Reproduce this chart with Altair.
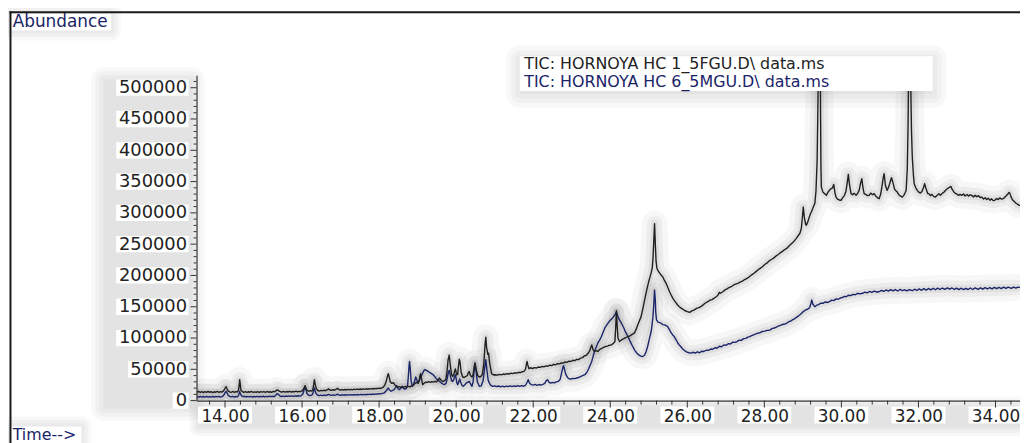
import altair as alt
import pandas as pd

# ---------------- data ----------------
# (retention time in minutes, abundance)
HC1 = [
    (13.28, 13800), (13.32, 14600), (13.36, 13200), (13.40, 14200), (13.44, 12900), (13.48, 14400),
    (13.52, 13300), (13.56, 14800), (13.60, 13100), (13.64, 14300), (13.68, 12800), (13.72, 14100),
    (13.76, 13400), (13.80, 14700), (13.84, 13000), (13.88, 14200), (13.92, 13600), (13.96, 15500),
    (13.99, 18500), (14.01, 21000), (14.03, 22300), (14.05, 19000), (14.08, 15500), (14.12, 14000),
    (14.16, 13200), (14.20, 14600), (14.24, 13300), (14.28, 14400), (14.32, 13800), (14.35, 16500),
    (14.37, 26000), (14.38, 33400), (14.395, 27000), (14.41, 17000), (14.45, 14500), (14.49, 13200),
    (14.53, 14400), (14.57, 13000), (14.61, 14200), (14.65, 13400), (14.69, 14600), (14.73, 13100),
    (14.77, 14000), (14.81, 13300), (14.85, 14500), (14.89, 13000), (14.93, 14300), (14.97, 13500),
    (15.01, 14400), (15.05, 13200), (15.09, 14600), (15.13, 13400), (15.17, 14200), (15.21, 13300),
    (15.25, 14800), (15.29, 14000), (15.32, 15800), (15.36, 17200), (15.40, 15600), (15.44, 14200),
    (15.48, 13500), (15.52, 14700), (15.56, 13600), (15.60, 14500), (15.64, 13800), (15.68, 14900),
    (15.72, 13700), (15.76, 14600), (15.80, 14000), (15.84, 15100), (15.88, 14100), (15.92, 14800),
    (15.96, 14300), (16.00, 15400), (16.04, 18500), (16.06, 21500), (16.08, 23900), (16.10, 20000),
    (16.13, 16500), (16.17, 15000), (16.21, 15900), (16.25, 15200), (16.28, 17500), (16.30, 25000),
    (16.32, 33400), (16.34, 26000), (16.37, 19000), (16.41, 16200), (16.45, 15300), (16.49, 16400),
    (16.53, 15500), (16.57, 16600), (16.61, 15800), (16.65, 17200), (16.69, 18800), (16.72, 17000),
    (16.76, 16300), (16.80, 17400), (16.84, 16600), (16.88, 17800), (16.92, 19500), (16.95, 18000),
    (16.99, 16800), (17.03, 17600), (17.07, 16900), (17.11, 17800), (17.15, 17000), (17.19, 18000),
    (17.23, 17200), (17.27, 18100), (17.31, 17300), (17.35, 18300), (17.39, 17500), (17.43, 18400),
    (17.47, 17700), (17.51, 18600), (17.55, 17800), (17.59, 18700), (17.63, 18000), (17.67, 18900),
    (17.71, 18200), (17.75, 19100), (17.79, 18400), (17.83, 19300), (17.87, 18600), (17.91, 19600),
    (17.95, 19000), (17.99, 20000), (18.03, 19300), (18.07, 20400), (18.11, 21500), (18.15, 25000),
    (18.19, 32000), (18.22, 40000), (18.24, 43000), (18.26, 38000), (18.29, 30000), (18.33, 27500),
    (18.37, 28700), (18.41, 25000), (18.45, 22500), (18.49, 21500), (18.53, 22300), (18.57, 21200),
    (18.61, 22400), (18.65, 21600), (18.69, 22700), (18.73, 22000), (18.77, 22800), (18.81, 22200),
    (18.85, 23500), (18.89, 25000), (18.93, 27500), (18.97, 29100), (19.01, 27500), (19.04, 33000),
    (19.06, 40000), (19.08, 43000), (19.10, 35000), (19.13, 25500), (19.17, 28000), (19.21, 29500),
    (19.25, 29000), (19.29, 30200), (19.33, 29300), (19.37, 30500), (19.41, 29600), (19.45, 30800),
    (19.49, 30000), (19.53, 33000), (19.57, 36100), (19.61, 32500), (19.65, 30500), (19.69, 31500),
    (19.73, 33500), (19.76, 45000), (19.79, 65000), (19.82, 72800), (19.85, 55000), (19.88, 42000),
    (19.91, 38700), (19.94, 42000), (19.96, 47000), (19.98, 50500), (20.00, 45000), (20.02, 41000),
    (20.04, 42000), (20.06, 55000), (20.08, 66000), (20.10, 62000), (20.13, 45000), (20.17, 37700),
    (20.21, 37000), (20.25, 38500), (20.29, 40000), (20.32, 45000), (20.34, 46700), (20.37, 40000),
    (20.41, 37700), (20.44, 42000), (20.47, 55000), (20.49, 60000), (20.52, 50000), (20.56, 40000),
    (20.60, 37700), (20.64, 38500), (20.68, 42000), (20.72, 60000), (20.75, 90000), (20.77, 101400),
    (20.79, 85000), (20.82, 74000), (20.84, 75900), (20.87, 60000), (20.92, 43000), (20.97, 41000),
    (21.02, 41400), (21.07, 40700), (21.12, 42000), (21.17, 41200), (21.22, 42500), (21.27, 41800),
    (21.32, 43000), (21.37, 42500), (21.42, 43800), (21.47, 43200), (21.52, 44500), (21.57, 44000),
    (21.62, 45300), (21.67, 44800), (21.72, 46200), (21.76, 46700), (21.80, 50000), (21.82, 57000),
    (21.84, 62500), (21.86, 57000), (21.89, 51000), (21.93, 52500), (21.98, 51300), (22.03, 52800),
    (22.08, 52100), (22.13, 53700), (22.18, 53000), (22.23, 54600), (22.28, 54000), (22.33, 55500),
    (22.38, 55000), (22.43, 56600), (22.48, 56000), (22.53, 58000), (22.58, 57300), (22.63, 59200),
    (22.68, 58700), (22.73, 60400), (22.78, 60000), (22.83, 61800), (22.88, 61200), (22.93, 63000),
    (22.98, 62500), (23.03, 64500), (23.08, 64000), (23.13, 66000), (23.18, 65500), (23.23, 68000),
    (23.28, 68700), (23.33, 71500), (23.38, 72500), (23.43, 76000), (23.47, 80000), (23.50, 86000),
    (23.52, 89000), (23.55, 82000), (23.59, 78500), (23.63, 80000), (23.68, 78500), (23.73, 82000),
    (23.78, 83500), (23.83, 85000), (23.88, 86500), (23.93, 87000), (23.98, 88500), (24.03, 89000),
    (24.08, 91500), (24.12, 94000), (24.14, 115000), (24.16, 143800), (24.18, 120000), (24.20, 100000),
    (24.24, 94400), (24.29, 97000), (24.34, 98500), (24.40, 100500), (24.45, 102400), (24.50, 103000),
    (24.55, 105000), (24.60, 107000), (24.63, 108300), (24.68, 115000), (24.72, 122000), (24.76, 128000),
    (24.80, 134200), (24.85, 148000), (24.89, 160000), (24.93, 172000), (24.97, 183000), (25.01, 193000),
    (25.06, 203800), (25.09, 212000), (25.11, 228000), (25.13, 255000), (25.15, 282900), (25.17, 250000),
    (25.19, 222000), (25.21, 212000), (25.23, 208600), (25.27, 205000), (25.32, 200600), (25.36, 198000),
    (25.40, 193000), (25.45, 187400), (25.50, 180000), (25.54, 174000), (25.58, 168800), (25.63, 163000),
    (25.68, 158500), (25.75, 152800), (25.81, 149000), (25.87, 146500), (25.93, 144000), (26.00, 142200),
    (26.06, 141000), (26.12, 143500), (26.18, 145000), (26.24, 147500), (26.30, 148500), (26.35, 150100),
    (26.41, 153000), (26.47, 156000), (26.53, 158000), (26.59, 160500), (26.64, 161500), (26.69, 163500),
    (26.74, 165500), (26.79, 168000), (26.83, 173000), (26.86, 171500), (26.92, 174000), (26.98, 177000),
    (27.03, 178500), (27.08, 180500), (27.14, 182000), (27.20, 184700), (27.25, 186000), (27.31, 187500),
    (27.37, 189500), (27.43, 191000), (27.49, 193500), (27.55, 195300), (27.61, 198000), (27.67, 201000),
    (27.73, 203500), (27.79, 206500), (27.84, 209000), (27.89, 211300), (27.95, 214000), (28.01, 217500),
    (28.07, 220000), (28.12, 223000), (28.18, 225500), (28.23, 227200), (28.29, 230500), (28.35, 233000),
    (28.41, 236000), (28.47, 238500), (28.52, 241000), (28.58, 243100), (28.64, 247000), (28.70, 250500),
    (28.76, 254000), (28.82, 258500), (28.87, 263000), (28.92, 267000), (28.96, 275000), (28.99, 295000),
    (29.01, 309300), (29.04, 292000), (29.07, 282000), (29.09, 280200), (29.13, 286000), (29.17, 294000),
    (29.20, 299000), (29.22, 301400), (29.25, 306000), (29.28, 311000), (29.31, 315200), (29.34, 335000),
    (29.37, 383700), (29.39, 470000), (29.41, 560000), (29.43, 580000), (29.45, 560000), (29.46, 450000),
    (29.47, 370000), (29.48, 341200), (29.52, 333200), (29.56, 331000), (29.61, 328000), (29.65, 333000),
    (29.69, 336000), (29.73, 338600), (29.77, 340000), (29.80, 345500), (29.83, 333000), (29.86, 325200),
    (29.90, 322000), (29.95, 320500), (29.99, 320000), (30.03, 324000), (30.08, 328000), (30.12, 335000),
    (30.16, 352000), (30.18, 361400), (30.21, 345000), (30.25, 330700), (30.29, 329000), (30.33, 331500),
    (30.38, 328000), (30.42, 331000), (30.46, 336000), (30.50, 348000), (30.53, 354500), (30.56, 340000),
    (30.59, 330700), (30.63, 329500), (30.68, 327500), (30.72, 328000), (30.76, 331500), (30.81, 329000),
    (30.85, 330700), (30.89, 327000), (30.94, 324000), (30.98, 322700), (31.02, 330000), (31.06, 345000),
    (31.09, 358000), (31.11, 362500), (31.14, 345000), (31.17, 338600), (31.19, 336000), (31.23, 342000),
    (31.27, 350000), (31.30, 356100), (31.34, 348000), (31.38, 338000), (31.42, 335000), (31.45, 333200),
    (31.49, 329000), (31.53, 327000), (31.58, 325200), (31.62, 328000), (31.66, 333000), (31.68, 336000),
    (31.71, 370000), (31.73, 436700), (31.75, 560000), (31.77, 580000), (31.79, 540000), (31.82, 430000),
    (31.84, 388900), (31.87, 360000), (31.89, 346600), (31.93, 340000), (31.97, 335900), (32.01, 333000),
    (32.05, 331600), (32.09, 334000), (32.13, 340000), (32.16, 346600), (32.20, 338000), (32.24, 331000),
    (32.27, 330700), (32.31, 327500), (32.35, 329500), (32.40, 326000), (32.44, 325200), (32.48, 327800),
    (32.53, 330500), (32.57, 328000), (32.61, 330700), (32.66, 333000), (32.71, 336500), (32.76, 339000),
    (32.80, 340500), (32.84, 342300), (32.88, 337000), (32.92, 333500), (32.95, 331600), (32.99, 330500),
    (33.04, 328000), (33.08, 329500), (33.12, 327900), (33.17, 330200), (33.21, 327000), (33.26, 329300),
    (33.30, 326800), (33.34, 328900), (33.38, 327900), (33.43, 325500), (33.47, 328000), (33.51, 325800),
    (33.56, 327500), (33.60, 324500), (33.64, 325200), (33.69, 322000), (33.73, 324300), (33.77, 321300),
    (33.81, 323300), (33.86, 320200), (33.90, 322400), (33.94, 319500), (33.98, 320000), (34.03, 323000),
    (34.07, 321200), (34.11, 323800), (34.16, 322000), (34.20, 322700), (34.24, 325000), (34.28, 327500),
    (34.32, 330000), (34.35, 332500), (34.37, 331600), (34.40, 326000), (34.44, 321000), (34.48, 318500),
    (34.50, 317300), (34.54, 315000), (34.58, 313500), (34.62, 312000),
]

HC6 = [
    (13.28, 6400), (13.32, 5600), (13.36, 6800), (13.40, 5400), (13.44, 6600), (13.48, 5700),
    (13.52, 6900), (13.56, 5500), (13.60, 6500), (13.64, 5800), (13.68, 6700), (13.72, 5400),
    (13.76, 6600), (13.80, 5900), (13.84, 6800), (13.88, 5600), (13.92, 6500), (13.96, 8000),
    (13.99, 11000), (14.01, 13500), (14.03, 14800), (14.05, 12500), (14.08, 8500), (14.12, 6800),
    (14.16, 5900), (14.20, 6900), (14.24, 5700), (14.28, 6600), (14.32, 6000), (14.35, 8000),
    (14.37, 12000), (14.38, 14800), (14.40, 11000), (14.43, 7500), (14.47, 6300), (14.51, 6900),
    (14.55, 5800), (14.59, 6700), (14.63, 5900), (14.67, 6800), (14.71, 5700), (14.75, 6600),
    (14.79, 6000), (14.83, 6900), (14.87, 5800), (14.91, 6700), (14.95, 6100), (14.99, 7000),
    (15.03, 5900), (15.07, 6800), (15.11, 6200), (15.15, 7100), (15.19, 6300), (15.23, 7000),
    (15.27, 6400), (15.31, 8000), (15.35, 11100), (15.38, 10000), (15.42, 7600), (15.46, 6600),
    (15.50, 7300), (15.54, 6500), (15.58, 7400), (15.62, 6700), (15.66, 7500), (15.70, 6800),
    (15.74, 7600), (15.78, 6900), (15.82, 7700), (15.86, 7000), (15.90, 7800), (15.94, 7200),
    (15.98, 8000), (16.02, 10500), (16.05, 17000), (16.08, 22800), (16.10, 17500), (16.13, 11000),
    (16.17, 8500), (16.21, 8000), (16.25, 8700), (16.28, 11000), (16.30, 16500), (16.32, 20200),
    (16.34, 15500), (16.37, 10500), (16.41, 8600), (16.45, 8000), (16.49, 8800), (16.53, 8100),
    (16.57, 8900), (16.61, 8200), (16.65, 9000), (16.69, 10000), (16.72, 9000), (16.76, 8400),
    (16.80, 9100), (16.84, 8500), (16.88, 9200), (16.92, 10200), (16.96, 9000), (17.00, 8600),
    (17.04, 9300), (17.08, 8700), (17.12, 9400), (17.16, 8800), (17.20, 9500), (17.24, 8900),
    (17.28, 9600), (17.32, 9000), (17.36, 9700), (17.40, 9100), (17.44, 9800), (17.48, 9200),
    (17.52, 9900), (17.56, 9300), (17.60, 10000), (17.64, 9400), (17.68, 10100), (17.72, 9600),
    (17.76, 10300), (17.80, 9800), (17.84, 10500), (17.88, 10000), (17.92, 10800), (17.96, 10300),
    (18.00, 11200), (18.04, 10700), (18.08, 11600), (18.12, 12000), (18.16, 14000), (18.20, 17000),
    (18.24, 20200), (18.27, 17000), (18.31, 15000), (18.35, 16500), (18.39, 17500), (18.43, 21000),
    (18.46, 23900), (18.49, 19000), (18.53, 17500), (18.57, 20500), (18.60, 22800), (18.63, 19500),
    (18.67, 18500), (18.71, 20000), (18.74, 25000), (18.76, 40000), (18.78, 58000), (18.79, 62600),
    (18.81, 50000), (18.83, 32000), (18.86, 22800), (18.89, 25000), (18.92, 31000), (18.95, 37700),
    (18.98, 33000), (19.01, 28200), (19.04, 31000), (19.07, 36000), (19.10, 39800), (19.13, 44000),
    (19.16, 47500), (19.18, 49400), (19.21, 49000), (19.24, 48000), (19.27, 46700), (19.31, 45000),
    (19.36, 43000), (19.40, 41400), (19.45, 38000), (19.50, 34000), (19.57, 30700), (19.62, 28000),
    (19.66, 26500), (19.70, 25500), (19.74, 28000), (19.77, 36000), (19.80, 46000), (19.82, 48200),
    (19.85, 40000), (19.88, 32000), (19.91, 30700), (19.94, 34000), (19.96, 38500), (19.98, 41400),
    (20.00, 35000), (20.02, 28000), (20.04, 25500), (20.07, 30000), (20.09, 34600), (20.12, 29000),
    (20.15, 24500), (20.18, 22800), (20.22, 25000), (20.26, 28000), (20.30, 29500), (20.34, 30700),
    (20.37, 27000), (20.41, 22800), (20.44, 30000), (20.47, 50000), (20.49, 60000), (20.52, 45000),
    (20.55, 30000), (20.60, 22800), (20.65, 23500), (20.70, 32000), (20.74, 52000), (20.77, 65300),
    (20.80, 48000), (20.83, 33000), (20.86, 28200), (20.90, 24500), (20.95, 22800), (21.00, 23600),
    (21.05, 22300), (21.10, 23400), (21.15, 22100), (21.20, 23200), (21.25, 22000), (21.30, 23100),
    (21.35, 22300), (21.40, 23500), (21.45, 22400), (21.50, 23700), (21.55, 22600), (21.60, 23800),
    (21.65, 22800), (21.70, 24000), (21.75, 23000), (21.80, 24500), (21.84, 29000), (21.87, 33400),
    (21.90, 28500), (21.95, 25500), (22.00, 24700), (22.05, 25800), (22.10, 24500), (22.15, 25700),
    (22.20, 24700), (22.25, 26000), (22.30, 27500), (22.34, 32000), (22.37, 33400), (22.41, 29500),
    (22.45, 27900), (22.50, 29000), (22.55, 28300), (22.60, 30000), (22.65, 30700), (22.70, 34000),
    (22.74, 45000), (22.77, 53000), (22.79, 55700), (22.82, 48000), (22.85, 41400), (22.89, 37000),
    (22.93, 35000), (22.98, 34600), (23.03, 35500), (23.08, 35200), (23.13, 36100), (23.18, 37000),
    (23.23, 38500), (23.28, 40000), (23.34, 41400), (23.39, 45000), (23.44, 51000), (23.48, 57000),
    (23.52, 62600), (23.56, 72000), (23.60, 80000), (23.64, 86000), (23.68, 92300), (23.73, 97500),
    (23.77, 102400), (23.82, 110000), (23.86, 116200), (23.90, 120000), (23.94, 123700), (24.00, 128500),
    (24.06, 132100), (24.10, 135500), (24.13, 138000), (24.16, 142200), (24.19, 136000), (24.22, 131000),
    (24.26, 127000), (24.29, 123700), (24.35, 116500), (24.40, 109000), (24.46, 102400), (24.51, 95500),
    (24.57, 88000), (24.63, 81200), (24.68, 76500), (24.74, 73000), (24.79, 71200), (24.84, 70500),
    (24.89, 72500), (24.93, 78000), (24.97, 86500), (25.02, 100000), (25.06, 110000), (25.08, 118300),
    (25.11, 135000), (25.13, 155000), (25.15, 176700), (25.17, 160000), (25.18, 141700), (25.20, 129000),
    (25.24, 125500), (25.28, 124500), (25.32, 123700), (25.36, 121500), (25.41, 121000), (25.45, 119800),
    (25.49, 118300), (25.54, 113000), (25.58, 108500), (25.62, 105000), (25.66, 102400), (25.71, 97000),
    (25.75, 92500), (25.79, 89000), (25.83, 86500), (25.88, 82500), (25.93, 80000), (25.98, 78000),
    (26.04, 76500), (26.09, 75900), (26.15, 77300), (26.20, 75800), (26.26, 77800), (26.32, 76500),
    (26.37, 78800), (26.43, 78500), (26.49, 80500), (26.55, 80200), (26.61, 82500), (26.66, 82000),
    (26.72, 84500), (26.78, 84000), (26.83, 86800), (26.89, 86000), (26.95, 89000), (27.01, 88500),
    (27.07, 91000), (27.12, 90500), (27.18, 93500), (27.24, 93000), (27.29, 94400), (27.35, 96500),
    (27.40, 96200), (27.46, 99000), (27.52, 99500), (27.57, 101500), (27.62, 102300), (27.67, 104000),
    (27.72, 105100), (27.78, 106500), (27.84, 108000), (27.89, 108500), (27.95, 110500), (28.01, 111000),
    (28.07, 112200), (28.12, 112500), (28.15, 113000), (28.21, 115500), (28.26, 116000), (28.32, 118000),
    (28.38, 119500), (28.43, 120500), (28.49, 122000), (28.54, 122500), (28.58, 123700), (28.63, 126000),
    (28.68, 127000), (28.74, 129500), (28.79, 131000), (28.84, 133500), (28.89, 135500), (28.94, 138000),
    (28.98, 140500), (29.01, 142200), (29.06, 144500), (29.12, 146000), (29.17, 148100), (29.20, 153000),
    (29.23, 160800), (29.26, 154000), (29.31, 150100), (29.36, 152500), (29.41, 153300), (29.46, 155500),
    (29.52, 155500), (29.57, 157500), (29.63, 156800), (29.69, 158100), (29.75, 160500), (29.80, 159800),
    (29.86, 162500), (29.92, 162000), (29.97, 164000), (30.03, 164800), (30.08, 166500), (30.12, 166000),
    (30.18, 168300), (30.24, 167700), (30.30, 169800), (30.36, 169200), (30.42, 171500), (30.48, 170600),
    (30.55, 171500), (30.61, 173300), (30.67, 172200), (30.73, 174400), (30.79, 173000), (30.85, 175000),
    (30.92, 173600), (30.98, 174000), (31.04, 176200), (31.10, 174500), (31.16, 176800), (31.22, 174900),
    (31.28, 177300), (31.34, 175400), (31.40, 177500), (31.46, 175200), (31.52, 177600), (31.58, 175800),
    (31.64, 177100), (31.70, 175300), (31.76, 177400), (31.84, 175600), (31.90, 178000), (31.96, 176000),
    (32.02, 178500), (32.08, 176300), (32.14, 178900), (32.20, 176500), (32.26, 179200), (32.32, 177000),
    (32.38, 179600), (32.44, 177200), (32.50, 179800), (32.56, 177500), (32.62, 179900), (32.69, 177800),
    (32.75, 180200), (32.81, 178000), (32.87, 180000), (32.93, 177600), (32.99, 179800), (33.05, 177400),
    (33.11, 179600), (33.17, 177300), (33.23, 179500), (33.29, 177500), (33.35, 179900), (33.41, 177600),
    (33.47, 180100), (33.55, 177800), (33.61, 180300), (33.67, 178200), (33.73, 180500), (33.79, 178400),
    (33.85, 180700), (33.91, 178600), (33.97, 180900), (34.03, 178800), (34.09, 181000), (34.15, 179000),
    (34.21, 181200), (34.27, 179200), (34.33, 181300), (34.41, 179400), (34.47, 181500), (34.53, 179800),
    (34.58, 181200), (34.62, 181000),
]

Y_LABELS_6 = [100000, 150000, 200000, 250000, 300000, 350000, 400000, 450000, 500000]
Y_LABELS_5 = [50000]
Y_LABELS_1 = [0]
X_LABELS = [14, 16, 18, 20, 22, 24, 26, 28, 30, 32, 34]
LEGEND_1 = "TIC: HORNOYA HC 1_5FGU.D\\ data.ms"
LEGEND_2 = "TIC: HORNOYA HC 6_5MGU.D\\ data.ms"
Y_TITLE = "Abundance"
X_TITLE = "Time-->"

# ---------------- layout / style ----------------
X_DOMAIN = [13.26, 34.636]
Y_DOMAIN = [0, 520000]
W, H = 830, 328
BLACK = "#1f1f1f"
NAVY = "#1a2468"
TEXT = "#222222"
FONT = "DejaVu Sans"

x_minor = [round(13.6 + 0.4 * i, 1) for i in range(53) if (i - 1) % 5 != 0]
y_minor = [10000 * i for i in range(52) if i % 5 != 0]
y_major = Y_LABELS_1 + Y_LABELS_5 + Y_LABELS_6

X_SCALE = alt.Scale(domain=X_DOMAIN, nice=False, zero=False)
Y_SCALE = alt.Scale(domain=Y_DOMAIN, nice=False, zero=False)

X_AXIS = alt.Axis(
    values=X_LABELS, title=None, grid=False, ticks=False, zindex=1,
    domainColor="#333333", domainWidth=1.2, format=".2f",
    labelFont=FONT, labelFontSize=17, labelColor=TEXT, labelPadding=8,
    labelOverlap=False, labelFlush=False, labelBound=False,
)
Y_AXIS = alt.Axis(
    values=y_major, title=None, grid=False, ticks=False, zindex=1,
    domainColor="#333333", domainWidth=1.2, format="d",
    labelFont=FONT, labelFontSize=18, labelColor=TEXT, labelPadding=10,
    labelOverlap=False, labelFlush=False, labelBound=False,
)

df1 = pd.DataFrame(HC1, columns=["time", "abundance"])
df6 = pd.DataFrame(HC6, columns=["time", "abundance"])
one = pd.DataFrame({"k": [0]})


def xenc(field):
    return alt.X(field, scale=X_SCALE, axis=X_AXIS)


def yenc(field):
    return alt.Y(field, scale=Y_SCALE, axis=Y_AXIS)


def line(df, color, width, opacity=1.0):
    return alt.Chart(df).mark_line(
        color=color, strokeWidth=width, opacity=opacity, clip=True,
        strokeJoin="round", strokeCap="round",
    ).encode(x=xenc("time:Q"), y=yenc("abundance:Q"))


def box(x0, x1, y0, y1, color="white", opacity=1.0, r=0):
    return alt.Chart(one).mark_rect(color=color, opacity=opacity, cornerRadius=r).encode(
        x=alt.value(x0), x2=alt.value(x1), y=alt.value(y0), y2=alt.value(y1)
    )


def haze(x0, x1, y0, y1, spread, dy=0, alpha=0.028):
    out = []
    for s in (spread, spread * 0.66, spread * 0.33, 0):
        out.append(box(x0 - s, x1 + s, y0 - s + dy, y1 + s + dy, "black", alpha, s))
    return out


def label(txt, x, y, color, size=17, align="left"):
    return alt.Chart(one).mark_text(
        align=align, baseline="alphabetic", font=FONT, fontSize=size, color=color
    ).encode(x=alt.value(x), y=alt.value(y), text=alt.value(txt))


def glow(df):
    return [line(df, "black", w, o) for w, o in ((26, 0.032), (15, 0.042), (7, 0.055))]


def y_label_boxes(vals, x0):
    return alt.Chart(pd.DataFrame({"abundance": vals})).transform_calculate(
        lo="datum.abundance - 13000", hi="datum.abundance + 13000"
    ).mark_rect(color="white").encode(
        x=alt.value(x0), x2=alt.value(-8), y=yenc("lo:Q"), y2="hi:Q",
    )


def x_ticks_layer(vals, size):
    return alt.Chart(pd.DataFrame({"time": vals})).mark_rule(
        color="#333333", strokeWidth=1
    ).encode(x=xenc("time:Q"), y=alt.value(H), y2=alt.value(H + size))


def y_ticks_layer(vals, size):
    return alt.Chart(pd.DataFrame({"abundance": vals})).mark_rule(
        color="#333333", strokeWidth=1
    ).encode(y=yenc("abundance:Q"), x=alt.value(0), x2=alt.value(-size))


x_label_boxes = alt.Chart(pd.DataFrame({"time": X_LABELS})).transform_calculate(
    lo="datum.time - 0.70", hi="datum.time + 0.70"
).mark_rect(color="white").encode(
    x=xenc("lo:Q"), x2="hi:Q", y=alt.value(334), y2=alt.value(351),
)

layers = []
layers += haze(-94, -4, 4, 336, 12)          # y-axis label column
layers += haze(2, 840, 333, 355, 9)          # x-axis label row
layers += haze(326, 742, -19, 16, 14, dy=3)  # legend
layers += haze(-187, -86, -62, -45, 10)      # Abundance
layers += haze(-187, -116, 354, 371, 10)     # Time-->
layers += glow(df6) + glow(df1)
layers += [x_label_boxes, y_label_boxes(Y_LABELS_6, -81),
           y_label_boxes(Y_LABELS_5, -69), y_label_boxes(Y_LABELS_1, -24)]
layers += [x_ticks_layer(X_LABELS, 7), x_ticks_layer(x_minor, 4),
           y_ticks_layer(y_major, 6), y_ticks_layer(y_minor, 3)]
layers += [line(df6, NAVY, 1.4), line(df1, BLACK, 1.4)]
layers += [box(326, 742, -19, 16),
           label(LEGEND_1, 330.3, -6, TEXT, 16),
           label(LEGEND_2, 330.3, 12, NAVY, 16)]
layers += [box(-187, -86, -62, -45), label(Y_TITLE, -185.3, -48.3, NAVY)]
layers += [box(-187, -116, 354, 380), label(X_TITLE, -185.3, 368, NAVY, 16)]
frame = alt.Chart(one).mark_rule(color="#1a1a1a", strokeWidth=2)
layers += [
    frame.encode(x=alt.value(-187.5), y=alt.value(-64.5), y2=alt.value(380)),
    frame.encode(x=alt.value(-188.5), x2=alt.value(840), y=alt.value(-63.5)),
]

chart = alt.layer(*layers).properties(
    width=W, height=H,
    padding={"left": 190, "top": 66, "right": 0, "bottom": 41},
    autosize=alt.AutoSizeParams(type="none"),
    background="white",
).configure_view(stroke=None)

chart.save("out.html", embed_options={"renderer": "svg", "actions": False})
